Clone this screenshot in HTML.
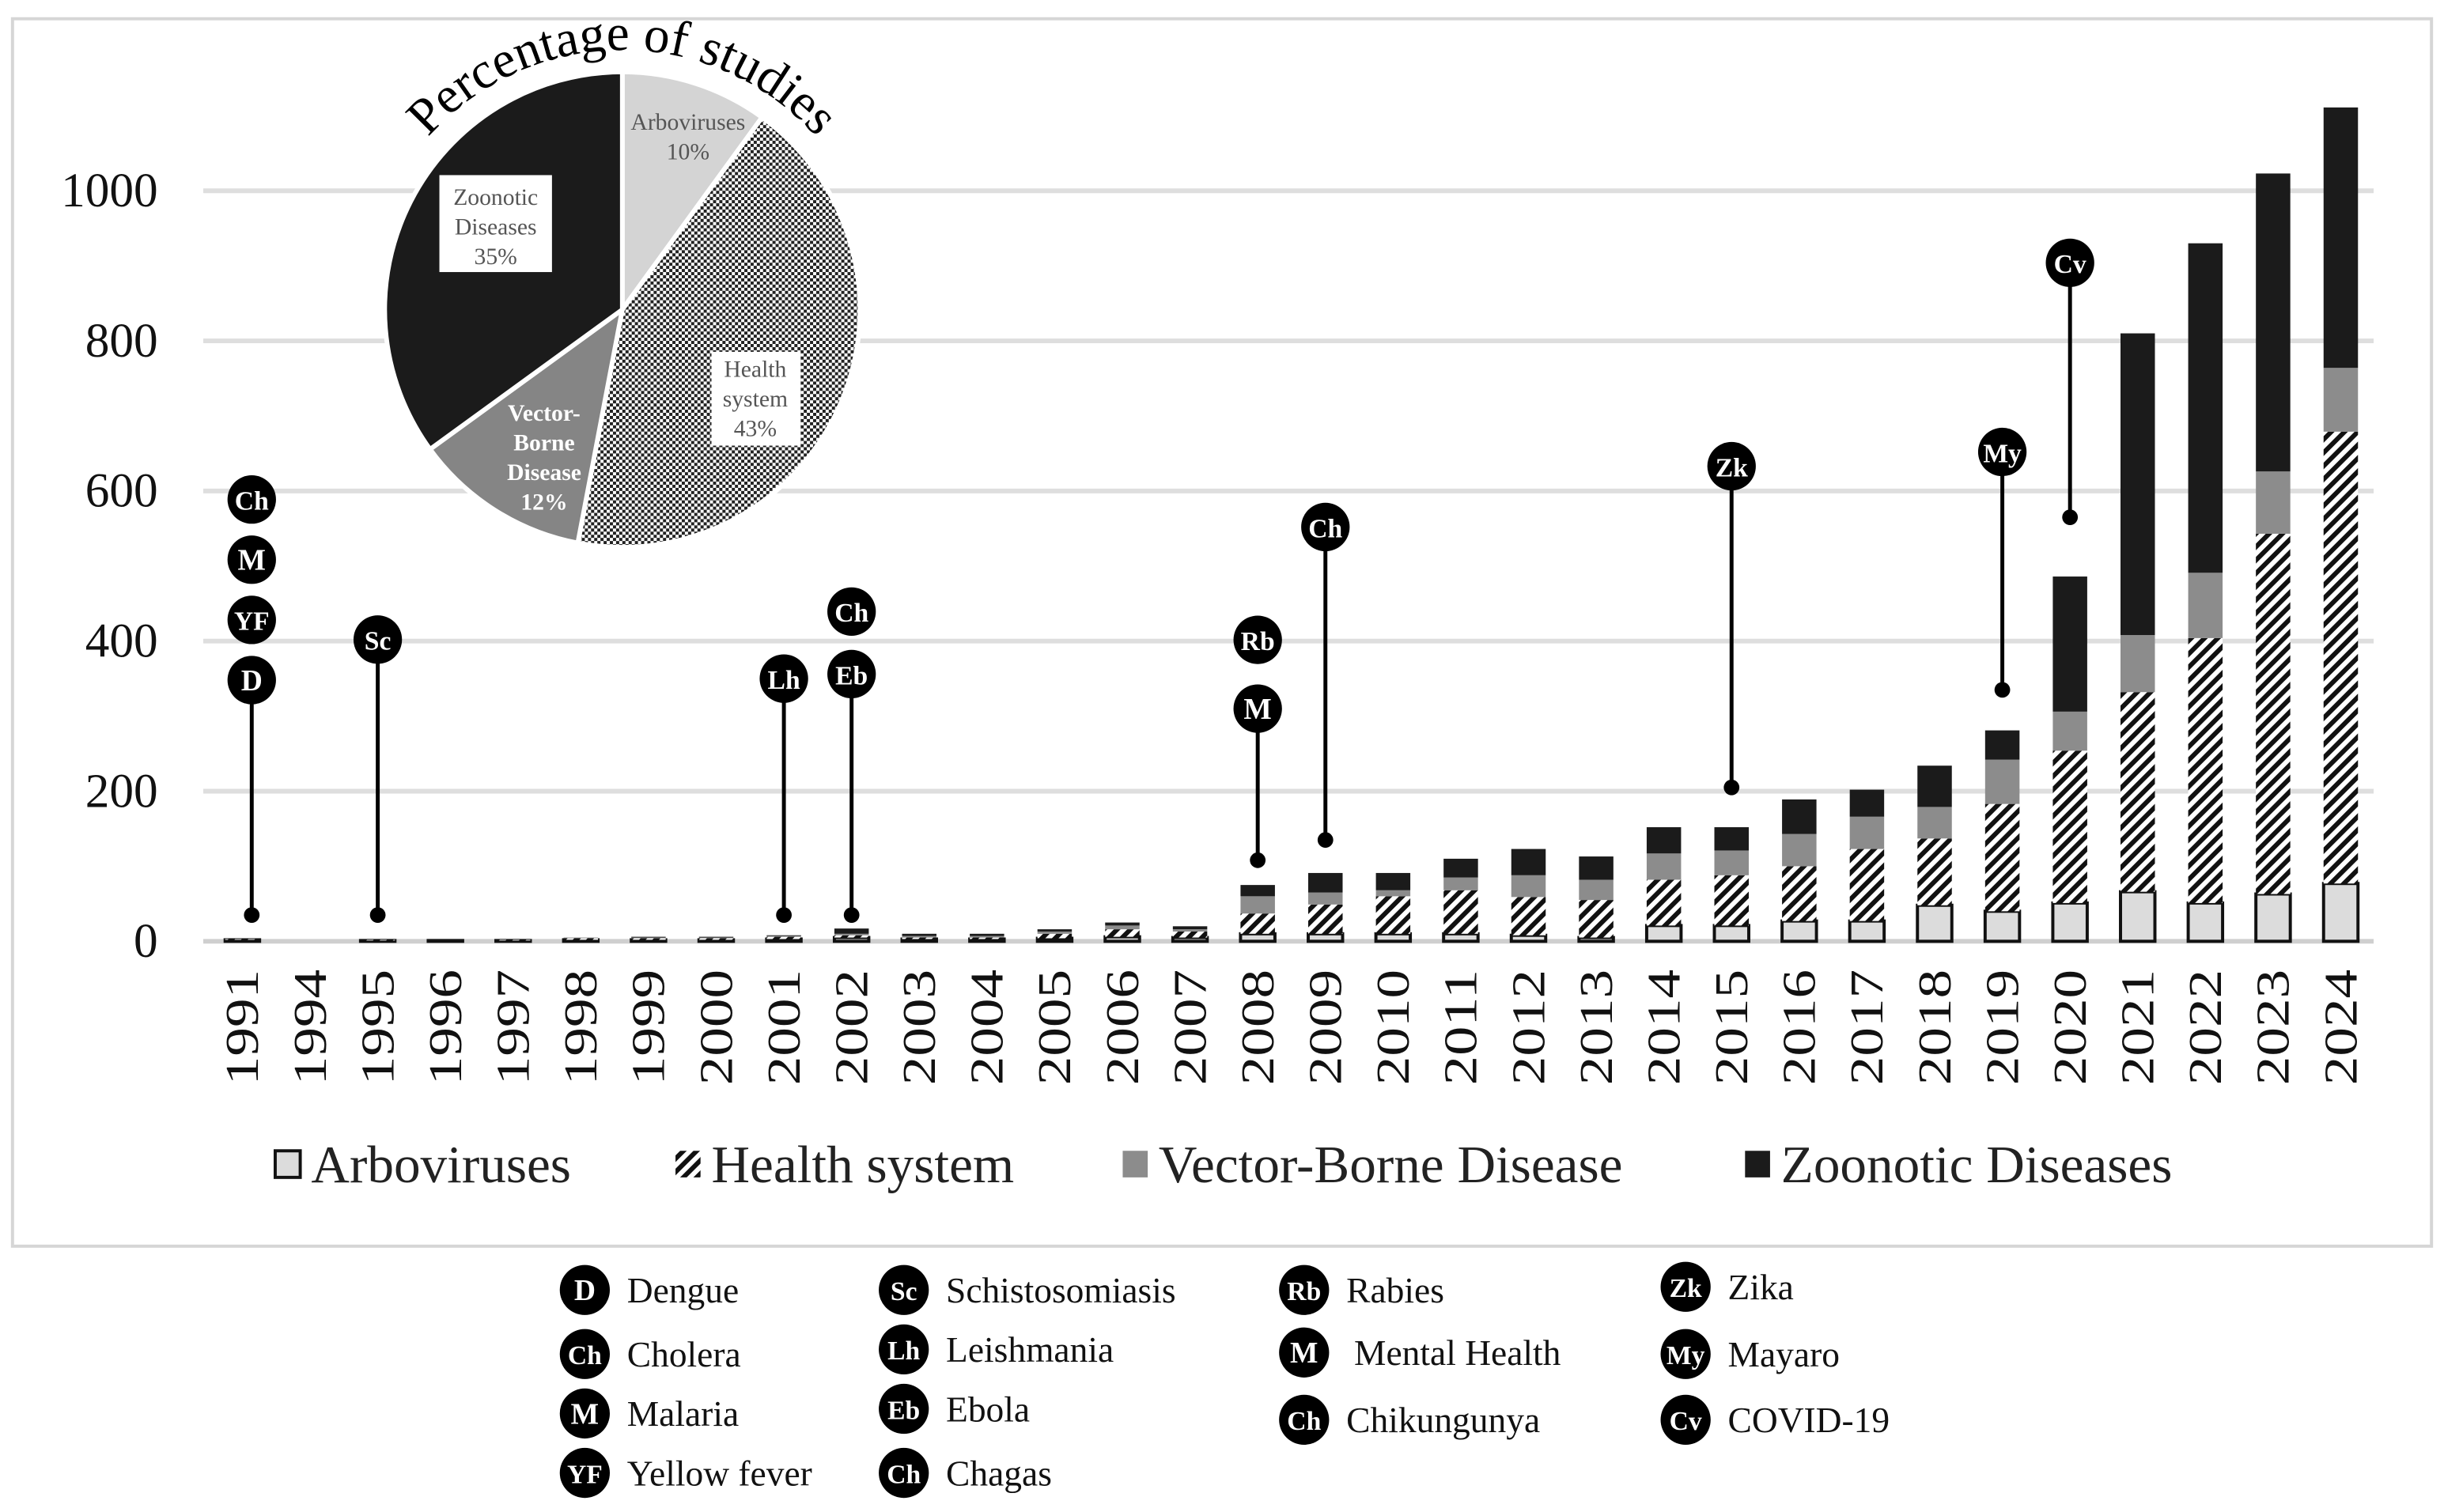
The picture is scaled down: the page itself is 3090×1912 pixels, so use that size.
<!DOCTYPE html>
<html><head><meta charset="utf-8"><style>
html,body{margin:0;padding:0;background:#fff;}
svg{display:block;font-family:"Liberation Serif",serif;}
</style></head><body>
<svg id="chart" width="3090" height="1912" viewBox="0 0 1563 967" preserveAspectRatio="none" xmlns="http://www.w3.org/2000/svg">
<defs>
<pattern id="hatch" patternUnits="userSpaceOnUse" width="6" height="6" patternTransform="rotate(45)">
<rect width="6" height="6" fill="#fff"/><rect width="3" height="6" fill="#111"/>
</pattern>
<pattern id="check" patternUnits="userSpaceOnUse" width="4" height="4">
<rect width="4" height="4" fill="#fff"/><rect width="2" height="2" fill="#222"/><rect x="2" y="2" width="2" height="2" fill="#222"/>
</pattern>
<path id="titlearc" d="M 244 136 A 166 166 0 0 1 552 136"/>
</defs>
<rect x="8" y="12" width="1547" height="785" fill="#fff" stroke="#d6d6d6" stroke-width="2"/>
<g id="grid"></g>
<g id="yticks"></g>
<g id="bars"></g>
<g id="xticks"></g>
<g id="pins"></g>
<g id="pie"></g>
<g id="legend"></g>
<g id="key"></g>
</svg>
<script>
const years=["1991","1994","1995","1996","1997","1998","1999","2000","2001","2002","2003","2004","2005","2006","2007","2008","2009","2010","2011","2012","2013","2014","2015","2016","2017","2018","2019","2020","2021","2022","2023","2024"];
const arbo=[2,0,1,1,1,2,2,2,3,5,3,3,4,6,5,10,10,10,10,8,5,21,21,27,27,48,40,51,66,51,63,77];
const health=[1,0,1,0,1,2,2,2,3,3,2,2,6,10,8,27,39,50,58,51,50,61,67,73,96,89,143,203,266,353,480,602];
const vector=[0,0,0,0,0,1,1,1,1,2,2,2,3,5,3,23,16,8,17,29,27,35,33,43,43,42,59,52,76,87,83,85];
const zoonotic=[1,0,1,1,0,0,1,1,1,7,3,3,3,4,4,15,26,23,25,35,31,35,31,46,36,55,39,180,402,439,397,347];
const yTicks=[0,200,400,600,800,1000];
const pieLabels=["Arboviruses","Health system","Vector-Borne Disease","Zoonotic Diseases"];
const pieValues=[10,43,12,35];
const pinYears=["1991","1995","2001","2002","2008","2009","2015","2019","2020"];
const pinDots=[35,35,35,35,108,135,205,335,565];
const pinCodes=[["Ch","M","YF","D"],["Sc"],["Lh"],["Ch","Eb"],["Rb","M"],["Ch"],["Zk"],["My"],["Cv"]];
const pinTops=[348,402,350,356,310,552,633,652,904];

const NS="http://www.w3.org/2000/svg";
function mk(tag,attrs,parent){const e=document.createElementNS(NS,tag);for(const k in attrs)e.setAttribute(k,attrs[k]);parent.appendChild(e);return e;}
const y0=602,k=0.48;
function yS(v){return y0-v*k;}
function xS(i){return 155+i*43.29;}
const bw=22;
const grid=document.getElementById('grid'),yt=document.getElementById('yticks');
yTicks.forEach(t=>{
 const l=mk('line',{x1:130,x2:1518,y1:yS(t),y2:yS(t),stroke:t===0?'#cfcfcf':'#dedede','stroke-width':3},grid);
 
 
 const tx=mk('text',{x:101,y:yS(t)+10,'text-anchor':'end','font-size':31,fill:'#111'},yt);
 tx.textContent=t;
 
 
});
const bars=document.getElementById('bars'),xt=document.getElementById('xticks');
const series=[[arbo,'#dcdcdc','arbo'],[health,'url(#hatch)','health'],[vector,'#8c8c8c','vector'],[zoonotic,'#1b1b1b','zoonotic']];
years.forEach((yr,i)=>{
 let acc=0;const x=xS(i)-bw/2;
 series.forEach(([arr,fill,nm])=>{
  const v=arr[i];if(v<=0)return;
  const r=mk('rect',{x:x,y:yS(acc+v),width:bw,height:v*k,fill:fill},bars);
  if(nm==='arbo'){r.setAttribute('stroke','#111');r.setAttribute('stroke-width','2');}
  
  
  acc+=v;
 });
 const t=mk('text',{x:0,y:0,'text-anchor':'end','font-size':30,fill:'#111',textLength:74,lengthAdjust:'spacingAndGlyphs',transform:`translate(${xS(i)+10},620) rotate(-90)`},xt);
 t.textContent=yr;
 
 
});
function badge(cx,cy,code,parent,r){
 const g=mk('g',{},parent);
 mk('circle',{cx:cx,cy:cy,r:r||15.5,fill:'#000'},g);
 const t=mk('text',{x:cx,y:cy+6.5,'text-anchor':'middle','font-size':code.length>1?17:19,'font-weight':'bold',fill:'#fff'},g);
 t.textContent=code;
 return g;
}
const pins=document.getElementById('pins');
pinYears.forEach((yr,j)=>{
 const i=years.indexOf(yr);const cx=xS(i)+(yr==='1991'?6:0);
 const codes=pinCodes[j];
 const lastY=yS(pinTops[j]);
 const ln=mk('line',{x1:cx,x2:cx,y1:lastY,y2:yS(pinDots[j]),stroke:'#000','stroke-width':2.5},pins);
 
 
 const d=mk('circle',{cx:cx,cy:yS(pinDots[j]),r:5,fill:'#000'},pins);
 
 
 codes.slice().reverse().forEach((c,m)=>{
  const gap=(yr==='2008')?44:(yr==='1991'?38.5:40);
  const g=badge(cx,lastY-m*gap,c,pins);
  
  
 });
});
// pie
const pie=document.getElementById('pie');
const pcx=398,pcy=198,pr=152;
const pieFills=['#d4d4d4','url(#check)','#858585','#1b1b1b'];
let a0=-Math.PI/2;const tot=pieValues.reduce((a,b)=>a+b,0);
pieValues.forEach((v,i)=>{
 const a1=a0+v/tot*2*Math.PI;
 const x0=pcx+pr*Math.cos(a0),yy0=pcy+pr*Math.sin(a0),x1=pcx+pr*Math.cos(a1),yy1=pcy+pr*Math.sin(a1);
 const p=mk('path',{d:`M${pcx},${pcy} L${x0},${yy0} A${pr},${pr} 0 ${a1-a0>Math.PI?1:0} 1 ${x1},${yy1} Z`,fill:pieFills[i],stroke:'#fff','stroke-width':3},pie);
 
 
 a0=a1;
});
function lbl(lines,x,y,opts){lines.forEach((s,m)=>{const t=mk('text',Object.assign({x:x,y:y+m*19,'text-anchor':'middle','font-size':15},opts),pie);t.textContent=s;});}
lbl(['Arboviruses',pieValues[0]+'%'],440,83,{fill:'#555'});
mk('rect',{x:455,y:225,width:57,height:60,fill:'#fff'},pie);
lbl(['Health','system',pieValues[1]+'%'],483,241,{fill:'#555'});
lbl(['Vector-','Borne','Disease',pieValues[2]+'%'],348,269,{fill:'#fff','font-weight':'bold','font-size':15});
mk('rect',{x:281,y:112,width:72,height:62,fill:'#fff'},pie);
lbl(['Zoonotic','Diseases',pieValues[3]+'%'],317,131,{fill:'#555'});
const tt=mk('text',{'font-size':33,fill:'#000'},pie);


const tp=mk('textPath',{href:'#titlearc',startOffset:'50%','text-anchor':'middle'},tt);tp.textContent='Percentage of studies';
// legend
const leg=document.getElementById('legend');
const legX=[174,430,716,1114];const legF=['#dcdcdc','url(#hatch)','#8c8c8c','#1b1b1b'];
pieLabels.forEach((s,i)=>{
 const g=mk('g',{},leg);
 
 
 mk('rect',{x:legX[i]+2,y:736,width:16,height:17,fill:legF[i],stroke:i===0?'#111':'none','stroke-width':2},g);
 const t=mk('text',{x:legX[i]+25,y:756,'font-size':34,fill:'#222'},g);t.textContent=s;
});
// bottom key
const keyCodes=[["D","Ch","M","YF"],["Sc","Lh","Eb","Ch"],["Rb","M","Ch"],["Zk","My","Cv"]];
const keyNames=[["Dengue","Cholera","Malaria","Yellow fever"],["Schistosomiasis","Leishmania","Ebola","Chagas"],["Rabies","Mental Health","Chikungunya"],["Zika","Mayaro","COVID-19"]];
const keyX=[374,578,834,1078];const keyY=[[825,866,904,942],[825,863,901,942],[825,865,908],[823,866,908]];
const key=document.getElementById('key');
keyCodes.forEach((col,c)=>col.forEach((code,r)=>{
 const g=mk('g',{},key);
 
 
 badge(keyX[c],keyY[c][r],code,g,16);
 const t=mk('text',{x:keyX[c]+27+(c===2&&r===1?5:0),y:keyY[c][r]+8,'font-size':23,fill:'#111'},g);t.textContent=keyNames[c][r];
}));
</script>
</body></html>
